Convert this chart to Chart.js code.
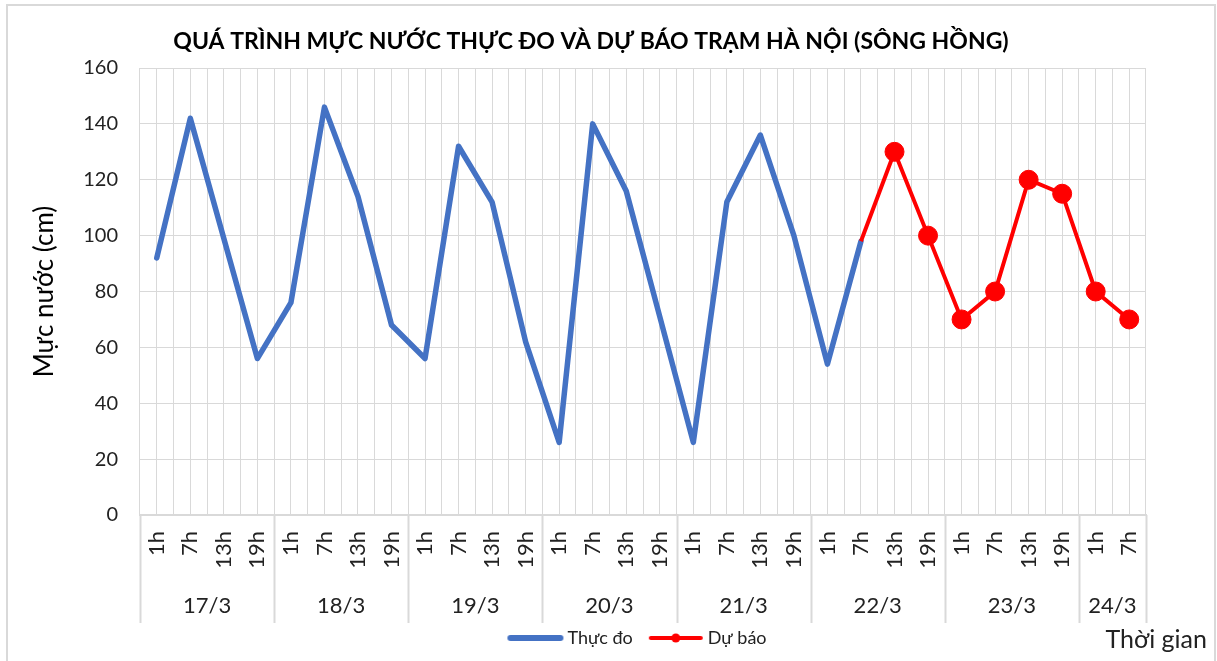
<!DOCTYPE html>
<html>
<head>
<meta charset="utf-8">
<title>Mực nước trạm Hà Nội</title>
<script src="https://cdn.jsdelivr.net/npm/chart.js@4"></script>
<style>
  html, body { margin: 0; padding: 0; background: #fff; overflow: hidden; }
  #wrap { position: relative; width: 1217px; height: 661px; }
  #frame { position: absolute; left: 6px; top: 4px; width: 1206px; height: 670px;
           border: 2px solid #d9d9d9; pointer-events: none; }
</style>
</head>
<body>
<div id="wrap">
  <canvas id="chart" width="1217" height="661"></canvas>
  <div id="frame"></div>
</div>
<script>
// Mực nước thực đo và dự báo — trạm Hà Nội (sông Hồng)

const hourLabels = [
  "1h", "7h", "13h", "19h",   // 17/3
  "1h", "7h", "13h", "19h",   // 18/3
  "1h", "7h", "13h", "19h",   // 19/3
  "1h", "7h", "13h", "19h",   // 20/3
  "1h", "7h", "13h", "19h",   // 21/3
  "1h", "7h", "13h", "19h",   // 22/3
  "1h", "7h", "13h", "19h",   // 23/3
  "1h", "7h",                 // 24/3
]
const days = ["17/3", "18/3", "19/3", "20/3", "21/3", "22/3", "23/3", "24/3"]
const dayCounts = [4, 4, 4, 4, 4, 4, 4, 2]

// cm — observed
const thucDo = [
  92, 142, 99, 56,
  76, 146, 114, 68,
  56, 132, 112, 62,
  26, 140, 116, 71,
  26, 112, 136, 100,
  54, 98, null, null,
  null, null, null, null,
  null, null,
]
// cm — forecast (starts from the last observed point)
const duBao = [
  null, null, null, null,
  null, null, null, null,
  null, null, null, null,
  null, null, null, null,
  null, null, null, null,
  null, 98, 130, 100,
  70, 80, 120, 115,
  80, 70,
]
const yTicks = [0, 20, 40, 60, 80, 100, 120, 140, 160]

const BLUE = "#4472C4"
const RED = "#FF0000"
const GRID = "#d9d9d9"
const FONT = "Lato, 'Open Sans', sans-serif"

// legend swatch: short line, optional dot in the middle
function swatch(color, lineWidth, dot) {
  const c = document.createElement("canvas")
  c.width = 58
  c.height = 14
  const g = c.getContext("2d")
  g.strokeStyle = color
  g.lineWidth = lineWidth
  g.lineCap = "round"
  g.beginPath()
  g.moveTo(4, 7)
  g.lineTo(54, 7)
  g.stroke()
  if (dot) {
    g.fillStyle = color
    g.beginPath()
    g.arc(29, 7, 4.5, 0, Math.PI * 2)
    g.fill()
  }
  return c
}

// title, day groups under the hour labels, axis caption
const decorations = {
  id: "decorations",
  afterDraw(chart) {
    const { ctx, chartArea } = chart
    const x = chart.scales.x
    ctx.save()

    ctx.fillStyle = "#000"
    ctx.font = `bold 23px ${FONT}`
    ctx.textAlign = "center"
    ctx.textBaseline = "middle"
    ctx.fillText("QUÁ TRÌNH MỰC NƯỚC THỰC ĐO VÀ DỰ BÁO TRẠM HÀ NỘI (SÔNG HỒNG)", 591, 42)

    ctx.strokeStyle = GRID
    ctx.lineWidth = 2
    ctx.font = `22px ${FONT}`
    ctx.fillStyle = "#222"
    let start = 0
    days.forEach((d, i) => {
      const end = start + dayCounts[i]
      const x0 = x.getPixelForValue(start - 0.5)
      const x1 = x.getPixelForValue(end - 0.5)
      ctx.beginPath()
      ctx.moveTo(Math.round(x0) + 0.5, chartArea.bottom)
      ctx.lineTo(Math.round(x0) + 0.5, 623)
      ctx.stroke()
      if (i === days.length - 1) {
        ctx.beginPath()
        ctx.moveTo(Math.round(x1) + 0.5, chartArea.bottom)
        ctx.lineTo(Math.round(x1) + 0.5, 623)
        ctx.stroke()
      }
      ctx.fillText(d, (x0 + x1) / 2, 606)
      start = end
    })

    ctx.font = `25px ${FONT}`
    ctx.textAlign = "right"
    ctx.fillText("Thời gian", 1207, 640)
    ctx.restore()
  },
}

new Chart(document.getElementById("chart"), {
  type: "line",
  data: {
    labels: hourLabels,
    datasets: [
      {
        label: "Thực đo",
        data: thucDo,
        borderColor: BLUE,
        backgroundColor: BLUE,
        borderWidth: 5.5,
        pointRadius: 0,
        borderJoinStyle: "round",
        borderCapStyle: "round",
        spanGaps: false,
        order: 2,
      },
      {
        label: "Dự báo",
        data: duBao,
        borderColor: RED,
        backgroundColor: RED,
        borderWidth: 4,
        pointRadius: duBao.map((v, i) => (i === 21 ? 0 : 9.5)),
        pointBorderWidth: 1,
        pointBackgroundColor: RED,
        pointBorderColor: RED,
        order: 1,
      },
    ],
  },
  options: {
    responsive: false,
    animation: false,
    layout: { padding: { top: 68, right: 0, left: 62, bottom: 4 } },
    plugins: {
      title: { display: false },
      tooltip: { enabled: false },
      legend: {
        position: "bottom",
        labels: {
          color: "#222",
          font: { family: FONT, size: 18 },
          usePointStyle: true,
          pointStyleWidth: 46,
          padding: 20,
          generateLabels: () => [
            { text: "Thực đo", pointStyle: swatch(BLUE, 6, false), datasetIndex: 0, fontColor: "#222", lineWidth: 0 },
            { text: "Dự báo", pointStyle: swatch(RED, 4, true), datasetIndex: 1, fontColor: "#222", lineWidth: 0 },
          ],
        },
      },
    },
    scales: {
      x: {
        type: "category",
        offset: true,
        grid: { color: GRID, offset: false, drawTicks: false },
        border: { color: GRID, width: 2 },
        ticks: {
          autoSkip: false,
          minRotation: 90,
          maxRotation: 90,
          padding: 16,
          color: "#222",
          font: { family: FONT, size: 22 },
        },
        afterFit: (s) => { s.height = 94 },
      },
      x2: {
        type: "category",
        position: "top",
        labels: hourLabels,
        offset: true,
        grid: { color: GRID, offset: true, drawTicks: false },
        border: { display: false },
        ticks: { display: false },
        afterFit: (s) => { s.height = 0 },
      },
      y: {
        min: 0,
        max: 160,
        afterBuildTicks: (s) => { s.ticks = yTicks.map(v => ({ value: v })) },
        grid: { color: GRID, drawTicks: false },
        border: { display: false },
        ticks: {
          padding: 22,
          color: "#222",
          font: { family: FONT, size: 20 },
        },
        title: {
          display: true,
          text: "Mực nước (cm)",
          color: "#000",
          font: { family: FONT, size: 26 },
          padding: { top: -32.6, bottom: 0 },
        },
        afterFit: (s) => { s.width = 78 },
      },
      // empty right-hand strip so the plot stops where the reference's does
      yR: {
        type: "linear",
        position: "right",
        min: 0,
        max: 160,
        grid: { display: false },
        border: { display: false },
        ticks: { display: false },
        afterFit: (s) => { s.width = 71 },
      },
    },
  },
  plugins: [decorations],
})
</script>
</body>
</html>
